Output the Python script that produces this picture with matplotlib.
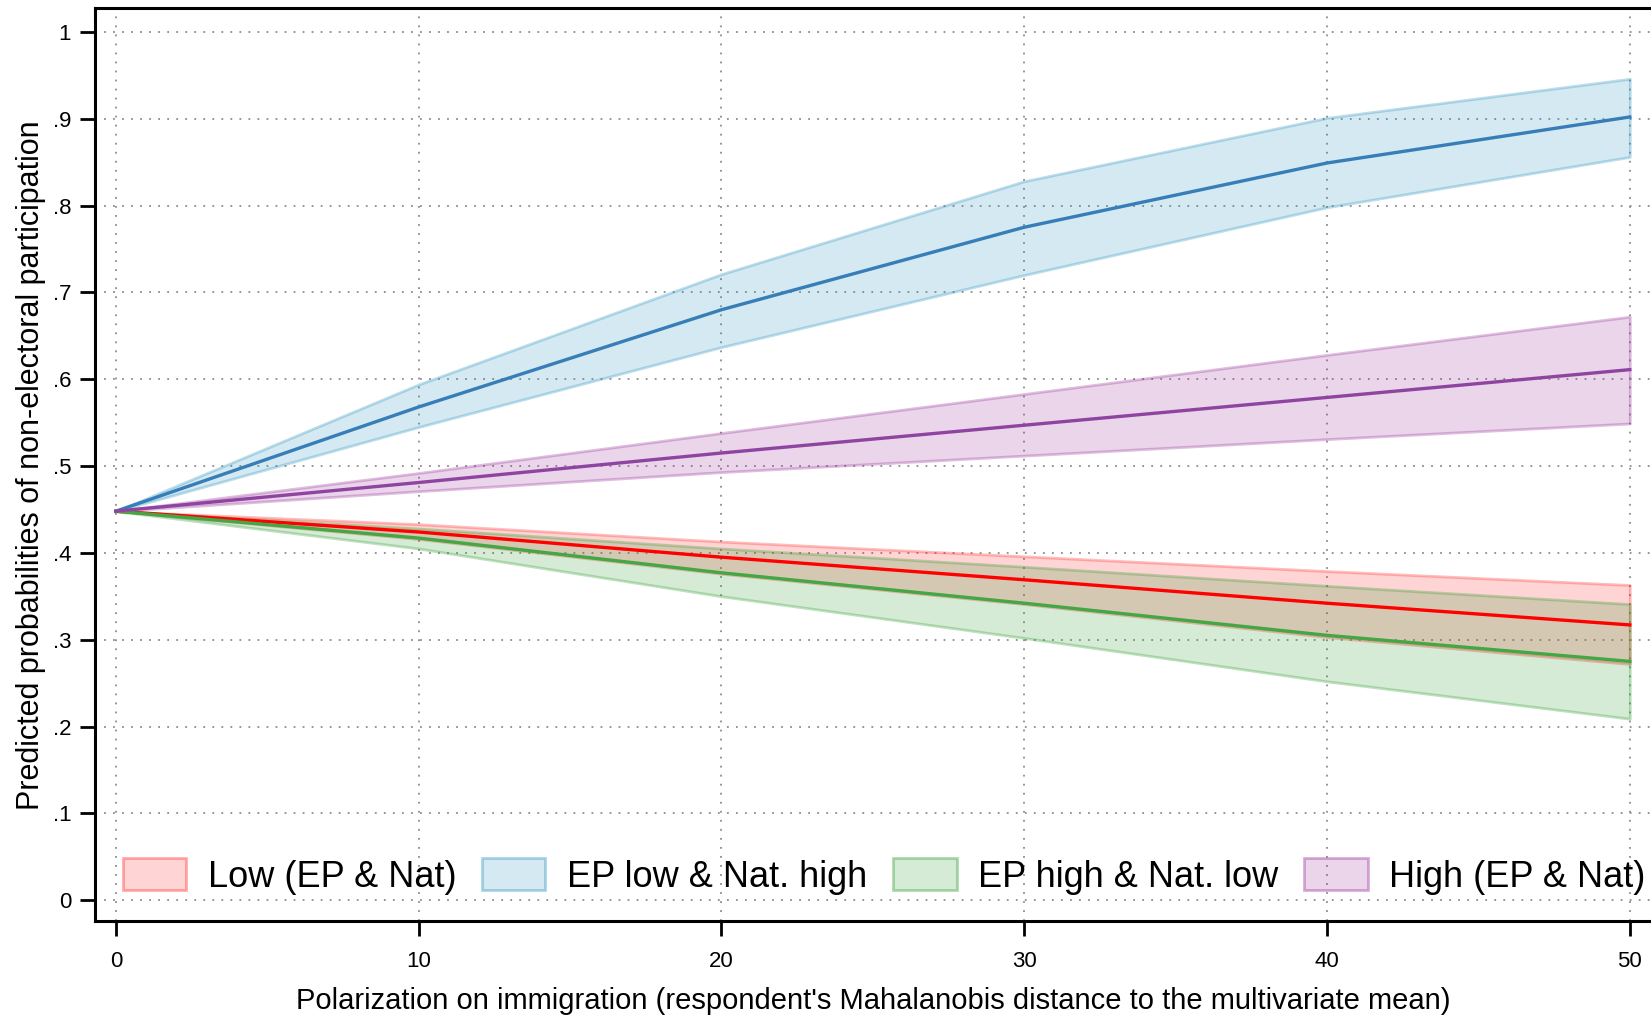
import numpy as np
import matplotlib
matplotlib.use("Agg")
import matplotlib.pyplot as plt
from matplotlib.colors import to_rgba
from matplotlib.patches import Patch

plt.rcParams['font.family'] = ['Liberation Sans', 'DejaVu Sans']

# Predicted probabilities at each polarization value (margins output)
polarization = [0, 10, 20, 30, 40, 50]

low_mean = [0.448, 0.424, 0.395, 0.369, 0.342, 0.317]
low_upper = [0.448, 0.433, 0.413, 0.396, 0.379, 0.363]
low_lower = [0.448, 0.416, 0.376, 0.341, 0.303, 0.272]

eplow_mean = [0.448, 0.568, 0.680, 0.775, 0.849, 0.902]
eplow_upper = [0.448, 0.594, 0.721, 0.828, 0.901, 0.946]
eplow_lower = [0.448, 0.545, 0.637, 0.720, 0.798, 0.856]

ephigh_mean = [0.448, 0.417, 0.377, 0.342, 0.305, 0.275]
ephigh_upper = [0.448, 0.428, 0.405, 0.384, 0.362, 0.341]
ephigh_lower = [0.448, 0.405, 0.350, 0.302, 0.252, 0.209]

high_mean = [0.448, 0.481, 0.515, 0.547, 0.579, 0.611]
high_upper = [0.448, 0.492, 0.538, 0.583, 0.628, 0.672]
high_lower = [0.448, 0.471, 0.493, 0.512, 0.531, 0.549]

group_labels = ["Low (EP & Nat)", "EP low & Nat. high", "EP high & Nat. low", "High (EP & Nat)"]

series = [
    (low_mean, low_upper, low_lower, '#ff2828', '#ff0000'),
    (eplow_mean, eplow_upper, eplow_lower, '#2891be', '#377eb8'),
    (ephigh_mean, ephigh_upper, ephigh_lower, '#2d9b2d', '#44a644'),
    (high_mean, high_upper, high_lower, '#962d96', '#8e44a0'),
]

fig = plt.figure(figsize=(16.51, 10.16), dpi=100)
ax = fig.add_axes([0.0574, 0.0935, 0.9426, 0.8982])

x = np.array(polarization)

# confidence bands first, then the point estimates on top
handles = []
for (mean, upper, lower, band_col, line_col), lab in zip(series, group_labels):
    ax.fill_between(x, lower, upper, facecolor=to_rgba(band_col, 0.2),
                    edgecolor=to_rgba(band_col, 0.3), linewidth=2, zorder=2)
    handles.append(Patch(facecolor=to_rgba(band_col, 0.2),
                         edgecolor=to_rgba(band_col, 0.38),
                         linewidth=2, label=lab))
for (mean, upper, lower, band_col, line_col) in series:
    ax.plot(x, mean, color=line_col, linewidth=2.4, zorder=3)

ax.set_xlim(-0.7, 50.7)
ax.set_ylim(-0.024, 1.027)

ax.set_xticks([0, 10, 20, 30, 40, 50])
yt = [0, 0.1, 0.2, 0.3, 0.4, 0.5, 0.6, 0.7, 0.8, 0.9, 1.0]
ax.set_yticks(yt)
ax.set_yticklabels(["0", ".1", ".2", ".3", ".4", ".5", ".6", ".7", ".8", ".9", "1"])

ax.grid(True, color='#8c8c8c', linestyle=(0, (1, 4)), linewidth=1.3, zorder=0)
ax.set_axisbelow(True)

for side in ['left', 'bottom', 'top']:
    ax.spines[side].set_linewidth(2.2)
ax.spines['right'].set_visible(False)

ax.tick_params(axis='both', direction='out', length=11, width=2, labelsize=16, colors='black')
ax.tick_params(axis='x', pad=10.5)
ax.tick_params(axis='y', pad=6)

ax.set_xlabel("Polarization on immigration (respondent's Mahalanobis distance to the multivariate mean)",
              fontsize=21, labelpad=11)
ax.set_ylabel("Predicted probabilities of non-electoral participation", fontsize=22)
ax.yaxis.set_label_coords(-0.0313, 0.5)

ax.legend(handles=handles, loc='center left', bbox_to_anchor=(0.018, 0.049), ncol=4,
          frameon=False, fontsize=26, borderpad=0, borderaxespad=0,
          handlelength=1.75, handleheight=1.0, handletextpad=0.6, columnspacing=0.72)

plt.savefig("out.png", dpi=100)
